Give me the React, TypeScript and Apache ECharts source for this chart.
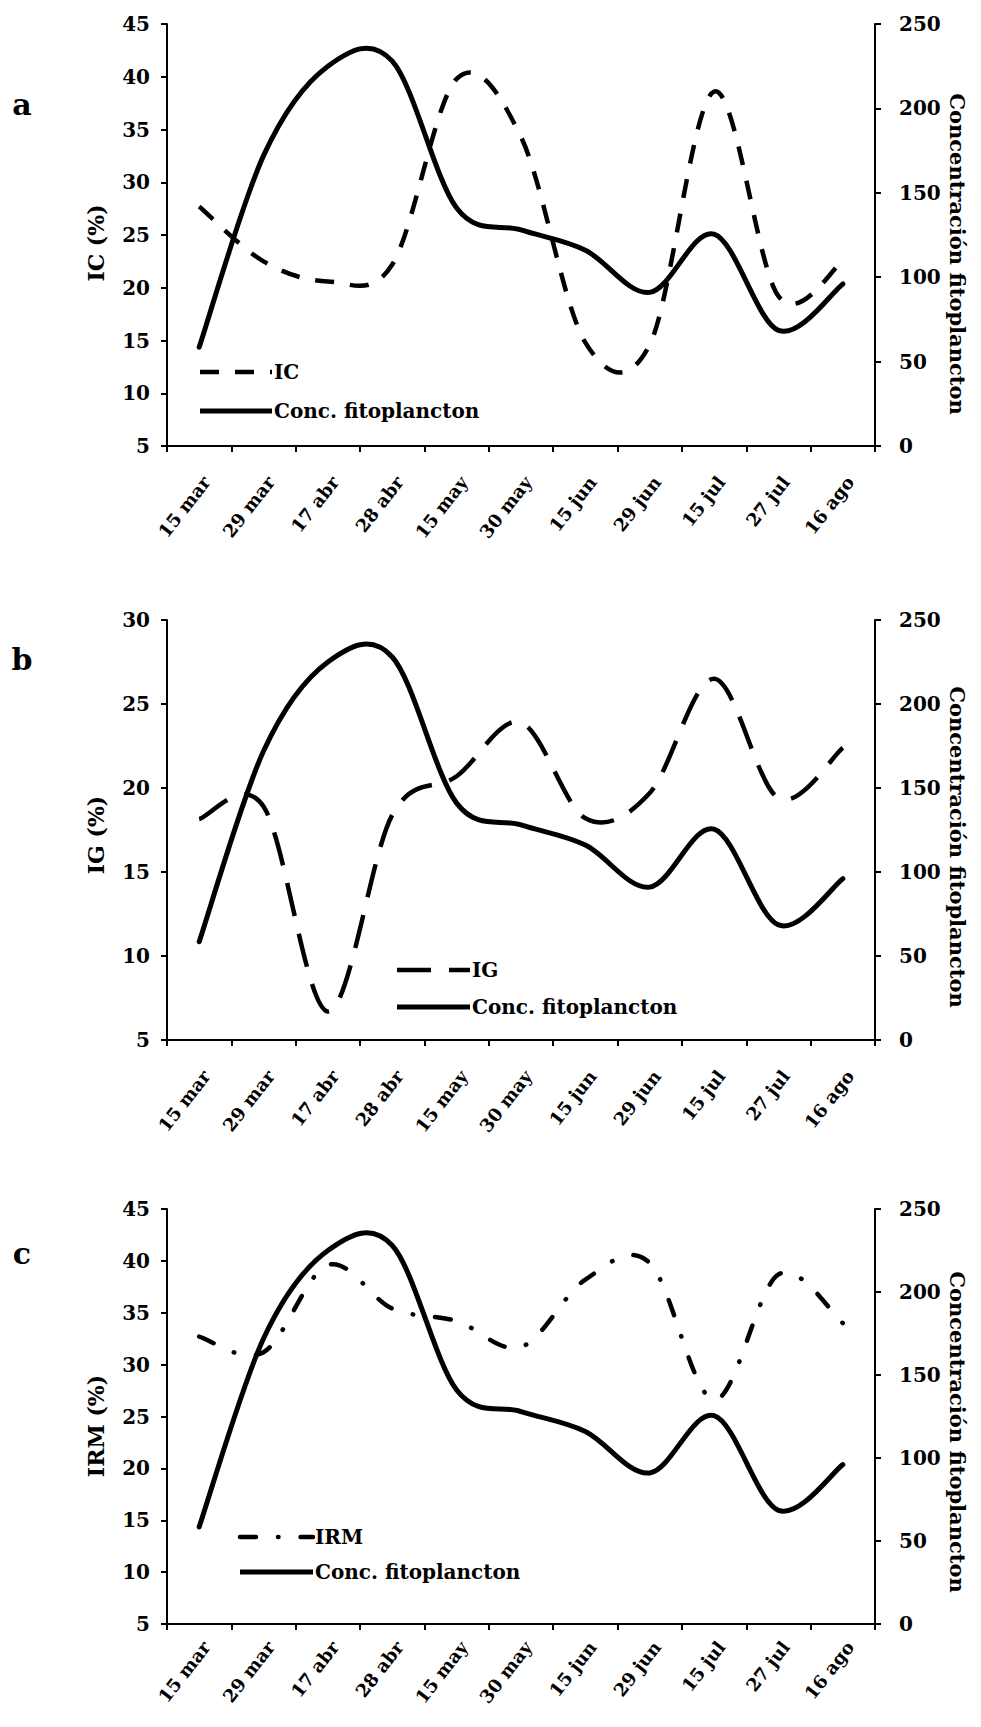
import React, { useEffect, useRef } from "react";
import * as echarts from "echarts";

// ---- data ----
const categories = ["15 mar", "29 mar", "17 abr", "28 abr", "15 may", "30 may", "15 jun", "29 jun", "15 jul", "27 jul", "16 ago"];
const fitoplancton = [58.5, 172, 225, 228, 141, 128, 116, 91, 125.5, 68.5, 96];
const icValues = [27.7, 22.5, 20.6, 22.2, 39.8, 34.3, 14.8, 14.6, 38.6, 19.2, 22.5];
const igValues = [18.15, 18.9, 6.7, 18.4, 20.7, 23.9, 18.2, 19.7, 26.5, 19.4, 22.4];
const irmValues = [32.7, 31.2, 39.6, 35.4, 34.2, 31.7, 38.2, 39.8, 26.6, 38.7, 34.0];
const icAxisRange = [5, 45, 5];
const igAxisRange = [5, 30, 5];
const irmAxisRange = [5, 45, 5];
const fitoAxisRange = [0, 250, 50];
const seriesNames = ["IC", "IG", "IRM"];
const fitoName = "Conc. fitoplancton";
const rightAxisName = "Concentración fitoplancton";
const leftAxisNames = ["IC (%)", "IG (%)", "IRM (%)"];
const panelLetters = ["a", "b", "c"];

const FONT = '"DejaVu Serif", "Liberation Serif", serif';

function smoothPath(pts: number[][]): string {
  const n = pts.length;
  let d = `M${pts[0][0]} ${pts[0][1]}`;
  const t = 1 / 6;
  for (let i = 0; i < n - 1; i++) {
    const p0 = pts[Math.max(i - 1, 0)];
    const p1 = pts[i];
    const p2 = pts[i + 1];
    const p3 = pts[Math.min(i + 2, n - 1)];
    const c1x = p1[0] + (p2[0] - p0[0]) * t;
    const c1y = p1[1] + (p2[1] - p0[1]) * t;
    const c2x = p2[0] - (p3[0] - p1[0]) * t;
    const c2y = p2[1] - (p3[1] - p1[1]) * t;
    d += ` C${c1x} ${c1y} ${c2x} ${c2y} ${p2[0]} ${p2[1]}`;
  }
  return d;
}

function curveSeries(values: number[], xIdx: number, yIdx: number, width: number, dash: number[] | null, cap: string, z: number) {
  return {
    type: "custom",
    coordinateSystem: "cartesian2d",
    xAxisIndex: xIdx,
    yAxisIndex: yIdx,
    data: values.map((v, i) => [i, v]),
    encode: { x: 0, y: 1 },
    silent: true,
    z,
    renderItem: (params: any, api: any) => {
      if (params.dataIndex !== 0) return null;
      const pts = values.map((v, i) => api.coord([i, v]));
      return {
        type: "path",
        shape: { pathData: smoothPath(pts) },
        style: {
          fill: "none",
          stroke: "#000",
          lineWidth: width,
          lineDash: dash || undefined,
          lineCap: cap,
          lineJoin: "round",
        },
      };
    },
  };
}

export default function App() {
  const ref = useRef<HTMLDivElement>(null);

  useEffect(() => {
    if (!ref.current) return;
    const chart = echarts.init(ref.current, null, { renderer: "svg" });

    const panels = [
      { top: 24, height: 422, values: icValues, range: icAxisRange, dash: [19, 16], cap: "butt", labelMargin: 27,
        letterY: 104, leftNameY: 243, rightNameY: 254, legendY: [372, 411], legendX: 200, legendEnd: 272 },
      { top: 620, height: 420, values: igValues, range: igAxisRange, dash: [34, 18], cap: "butt", labelMargin: 27,
        letterY: 659, leftNameY: 835, rightNameY: 847, legendY: [970, 1007], legendX: 397, legendEnd: 470 },
      { top: 1209, height: 415, values: irmValues, range: irmAxisRange, dash: [16, 22, 0.5, 22], cap: "round", labelMargin: 14,
        letterY: 1253, leftNameY: 1426, rightNameY: 1432, legendY: [1537, 1572], legendX: 240, legendEnd: 313 },
    ];

    const axisLine = { show: true, lineStyle: { color: "#000", width: 2 } };
    const axisTick = { show: true, length: 6, lineStyle: { color: "#000", width: 2 } };
    const labelBase = { color: "#000", fontFamily: FONT, fontWeight: "bold" as const };

    const grid = panels.map((p) => ({ left: 167, width: 708, top: p.top, height: p.height, outerBoundsMode: "none" }));

    const xAxis = panels.map((p, i) => ({
      type: "category",
      gridIndex: i,
      data: categories,
      boundaryGap: true,
      axisLine,
      axisTick: { ...axisTick, interval: 0, alignWithLabel: false },
      axisLabel: { ...labelBase, interval: 0, rotate: 52, margin: p.labelMargin, fontSize: 18, verticalAlign: "top" },
      splitLine: { show: false },
    }));

    const yAxis: any[] = [];
    panels.forEach((p, i) => {
      yAxis.push({
        type: "value",
        gridIndex: i,
        position: "left",
        min: p.range[0],
        max: p.range[1],
        interval: p.range[2],
        axisLine,
        axisTick,
        axisLabel: { ...labelBase, fontSize: 20, margin: 17 },
        splitLine: { show: false },
      });
      yAxis.push({
        type: "value",
        gridIndex: i,
        position: "right",
        min: fitoAxisRange[0],
        max: fitoAxisRange[1],
        interval: fitoAxisRange[2],
        axisLine,
        axisTick,
        axisLabel: { ...labelBase, fontSize: 20, margin: 24 },
        splitLine: { show: false },
      });
    });

    const series: any[] = [];
    panels.forEach((p, i) => {
      series.push(curveSeries(p.values, i, 2 * i, 4.5, p.dash, p.cap, 2));
      series.push(curveSeries(fitoplancton, i, 2 * i + 1, 5, null, "round", 3));
    });

    const textFont = (size: number) => `bold ${size}px ${FONT}`;
    const graphic: any[] = [];
    panels.forEach((p, i) => {
      graphic.push({
        type: "text",
        x: 22,
        y: p.letterY,
        style: { text: panelLetters[i], font: textFont(30), fill: "#000", textAlign: "center", textVerticalAlign: "middle" },
      });
      graphic.push({
        type: "text",
        x: 96,
        y: p.leftNameY,
        rotation: Math.PI / 2,
        style: { text: leftAxisNames[i], font: textFont(22), fill: "#000", textAlign: "center", textVerticalAlign: "middle" },
      });
      graphic.push({
        type: "text",
        x: 957,
        y: p.rightNameY,
        rotation: -Math.PI / 2,
        style: { text: rightAxisName, font: textFont(21), fill: "#000", textAlign: "center", textVerticalAlign: "middle" },
      });
      // legend
      graphic.push({
        type: "line",
        shape: { x1: p.legendX, y1: p.legendY[0], x2: p.legendEnd, y2: p.legendY[0] },
        style: { stroke: "#000", lineWidth: 4.5, lineDash: p.dash, lineCap: p.cap },
      });
      graphic.push({
        type: "text",
        x: p.legendEnd + 2,
        y: p.legendY[0],
        style: { text: seriesNames[i], font: textFont(20), fill: "#000", textAlign: "left", textVerticalAlign: "middle" },
      });
      graphic.push({
        type: "line",
        shape: { x1: p.legendX, y1: p.legendY[1], x2: p.legendEnd, y2: p.legendY[1] },
        style: { stroke: "#000", lineWidth: 5 },
      });
      graphic.push({
        type: "text",
        x: p.legendEnd + 2,
        y: p.legendY[1],
        style: { text: fitoName, font: textFont(20), fill: "#000", textAlign: "left", textVerticalAlign: "middle" },
      });
    });

    chart.setOption({
      animation: false,
      backgroundColor: "#fff",
      grid,
      xAxis,
      yAxis,
      series,
      graphic,
    });

    return () => chart.dispose();
  }, []);

  return (
    <div
      ref={ref}
      style={{ position: "absolute", left: 0, top: 0, width: 981, height: 1727, background: "#fff" }}
    />
  );
}
